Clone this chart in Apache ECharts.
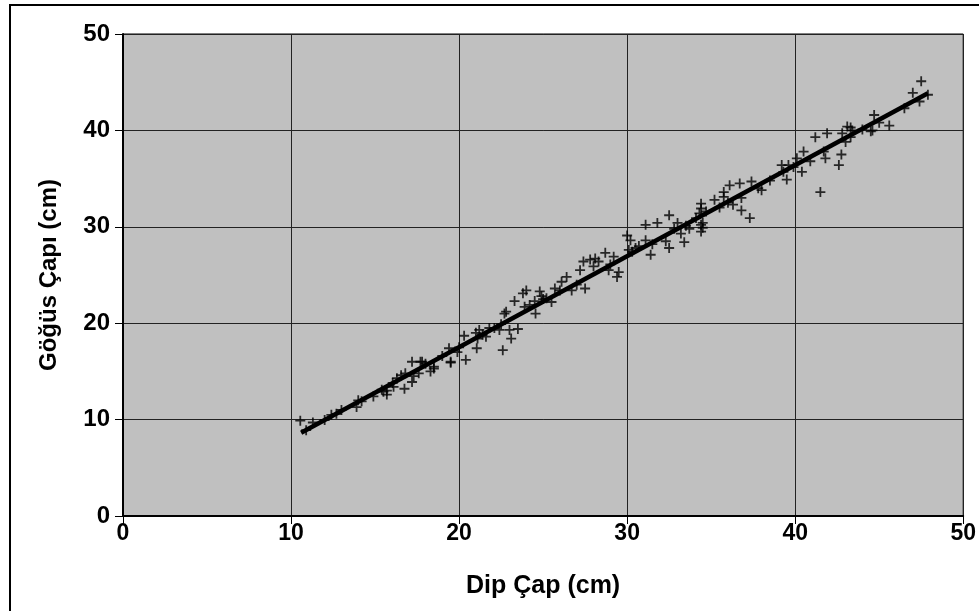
<!DOCTYPE html>
<html>
<head>
<meta charset="utf-8">
<title>Dip Çap - Göğüs Çapı</title>
<script src="https://cdn.jsdelivr.net/npm/echarts@6/dist/echarts.min.js"></script>
<style>
  html, body { margin: 0; padding: 0; background: #fff; }
  #main { width: 979px; height: 611px; }
</style>
</head>
<body>
<div id="main"></div>
<script>
// dip çap (x) ve göğüs çapı (y) ölçümleri
var dipCap = [
  10.55, 10.9, 11.3, 12.0, 12.4, 12.7, 13.0, 13.9, 14.0, 14.2, 14.9, 15.4, 15.5, 15.7, 15.7,
  16.05, 16.1, 16.3, 16.55, 16.75, 16.8, 17.2, 17.2, 17.3, 17.6, 17.7, 17.8, 18.0, 18.3, 18.5,
  18.5, 19.0, 19.4, 19.5, 19.5, 19.9, 20.0, 20.3, 20.4, 21.0, 21.05, 21.1, 21.2, 21.4, 21.6,
  21.8, 22.1, 22.4, 22.5, 22.6, 22.7, 22.8, 23.0, 23.1, 23.3, 23.5, 23.8, 23.9, 24.0, 24.2,
  24.5, 24.55, 24.8, 24.9, 25.0, 25.2, 25.5, 25.7, 26.0, 26.1, 26.4, 26.7, 27.0, 27.2, 27.4,
  27.5, 27.8, 28.0, 28.1, 28.3, 28.7, 28.9, 29.0, 29.2, 29.4, 29.5, 30.0, 30.1, 30.2, 30.3,
  30.5, 30.7, 31.1, 31.1, 31.4, 31.5, 31.8, 32.3, 32.5, 32.5, 32.8, 33.0, 33.2, 33.4, 33.5,
  33.7, 34.1, 34.3, 34.4, 34.4, 34.4, 34.4, 34.5, 34.5, 34.7, 35.2, 35.5, 35.75, 35.75, 36.0,
  36.1, 36.3, 36.7, 36.8, 36.8, 37.3, 37.4, 37.8, 38.0, 38.5, 39.2, 39.3, 39.5, 39.6, 39.9,
  40.1, 40.4, 40.5, 40.9, 41.2, 41.5, 41.7, 41.8, 41.9, 42.6, 42.75, 42.8, 43.0, 43.1, 43.3,
  43.3, 43.4, 44.0, 44.5, 44.6, 44.7, 45.0, 45.6, 46.5, 47.0, 47.4, 47.5, 47.9
];
var gogusCapi = [
  9.89, 8.9, 9.7, 9.96, 10.5, 10.6, 11.0, 11.3, 12.0, 11.9, 12.4, 13.1, 12.9, 12.6, 13.0,
  13.8, 13.4, 14.3, 14.6, 13.2, 14.8, 16.0, 13.9, 14.5, 14.8, 16.0, 16.0, 15.8, 15.0, 15.3,
  15.5, 16.6, 17.4, 16.0, 15.9, 17.0, 17.5, 18.7, 16.2, 19.0, 17.4, 18.4, 19.3, 18.8, 18.6,
  19.5, 19.5, 19.3, 19.9, 17.2, 21.0, 21.2, 19.3, 18.4, 22.3, 19.4, 23.1, 21.7, 23.4, 21.9,
  22.3, 21.0, 23.3, 22.8, 22.5, 22.6, 22.2, 23.6, 23.4, 24.3, 24.8, 23.4, 24.0, 25.5, 26.4,
  23.6, 26.6, 25.9, 26.7, 26.4, 27.3, 25.5, 26.1, 26.9, 24.8, 25.3, 29.1, 27.6, 28.6, 27.4,
  27.8, 28.0, 28.6, 30.2, 27.1, 28.2, 30.4, 28.5, 27.8, 31.2, 29.8, 30.4, 29.3, 28.4, 30.1,
  29.8, 30.9, 31.4, 32.4, 31.9, 29.5, 30.2, 30.4, 29.9, 31.6, 32.8, 32.0, 33.6, 33.1, 32.5,
  34.3, 32.3, 34.5, 33.0, 31.7, 30.9, 34.7, 34.0, 33.8, 34.8, 36.4, 35.7, 34.9, 36.4, 36.2,
  37.1, 35.7, 37.8, 36.8, 39.3, 33.6, 37.8, 37.1, 39.7, 36.4, 37.5, 39.7, 38.8, 40.4, 39.3,
  40.3, 40.0, 40.1, 39.9, 40.0, 41.6, 40.8, 40.5, 42.3, 43.9, 43.0, 45.1, 43.7
];
// doğrusal eğilim çizgisinin uçları
var trendX = [10.6, 47.9];
var trendY = [8.64, 43.85];
var axisTicks = [0, 10, 20, 30, 40, 50];

var points = dipCap.map(function (x, i) { return [x, gogusCapi[i]]; });
var trendLine = trendX.map(function (x, i) { return [x, trendY[i]]; });

// "+" işareti
var plusPath = 'path://M4.1,0h1.8v4.1h4.1v1.8h-4.1v4.1h-1.8v-4.1h-4.1v-1.8h4.1z';
var fontFam = 'Liberation Sans, Arial, sans-serif';

var myChart = echarts.init(document.getElementById('main'), null, { renderer: 'canvas' });
var option = {
  backgroundColor: '#fff',
  animation: false,
  graphic: [{
    type: 'rect',
    shape: { x: 10, y: 5, width: 1000, height: 700 },
    style: { fill: 'none', stroke: '#000', lineWidth: 2 },
    z: 0
  }],
  grid: {
    left: 123, top: 34, right: 14, bottom: 95,
    show: true,
    backgroundColor: '#c0c0c0',
    borderColor: '#000',
    borderWidth: 1
  },
  xAxis: {
    type: 'value',
    min: axisTicks[0], max: axisTicks[axisTicks.length - 1], interval: 10,
    name: 'Dip Çap (cm)',
    nameLocation: 'middle',
    nameGap: 58,
    nameTextStyle: { fontFamily: fontFam, fontWeight: 'bold', fontSize: 25, color: '#000' },
    axisLine: { lineStyle: { color: '#000', width: 2 } },
    axisTick: { show: true, length: 8, lineStyle: { color: '#000', width: 1 } },
    axisLabel: { margin: 6, fontFamily: fontFam, fontWeight: 'bold', fontSize: 23, color: '#000' },
    splitLine: { show: true, lineStyle: { color: '#222', width: 1 } }
  },
  yAxis: {
    type: 'value',
    min: axisTicks[0], max: axisTicks[axisTicks.length - 1], interval: 10,
    name: 'Göğüs Çapı (cm)',
    nameLocation: 'middle',
    nameGap: 62,
    nameTextStyle: { fontFamily: fontFam, fontWeight: 'bold', fontSize: 24, color: '#000' },
    axisLine: { lineStyle: { color: '#000', width: 2 } },
    axisTick: { show: true, length: 8, lineStyle: { color: '#000', width: 1 } },
    axisLabel: { margin: 13, fontFamily: fontFam, fontWeight: 'bold', fontSize: 24, color: '#000' },
    splitLine: { show: true, lineStyle: { color: '#222', width: 1 } }
  },
  series: [
    {
      name: 'ölçüm',
      type: 'scatter',
      symbol: plusPath,
      symbolSize: 10,
      itemStyle: { color: '#000' },
      data: points,
      z: 2
    },
    {
      name: 'eğilim',
      type: 'line',
      showSymbol: false,
      lineStyle: { color: '#000', width: 4.5 },
      data: trendLine,
      z: 3
    }
  ]
};
myChart.setOption(option);
</script>
</body>
</html>
